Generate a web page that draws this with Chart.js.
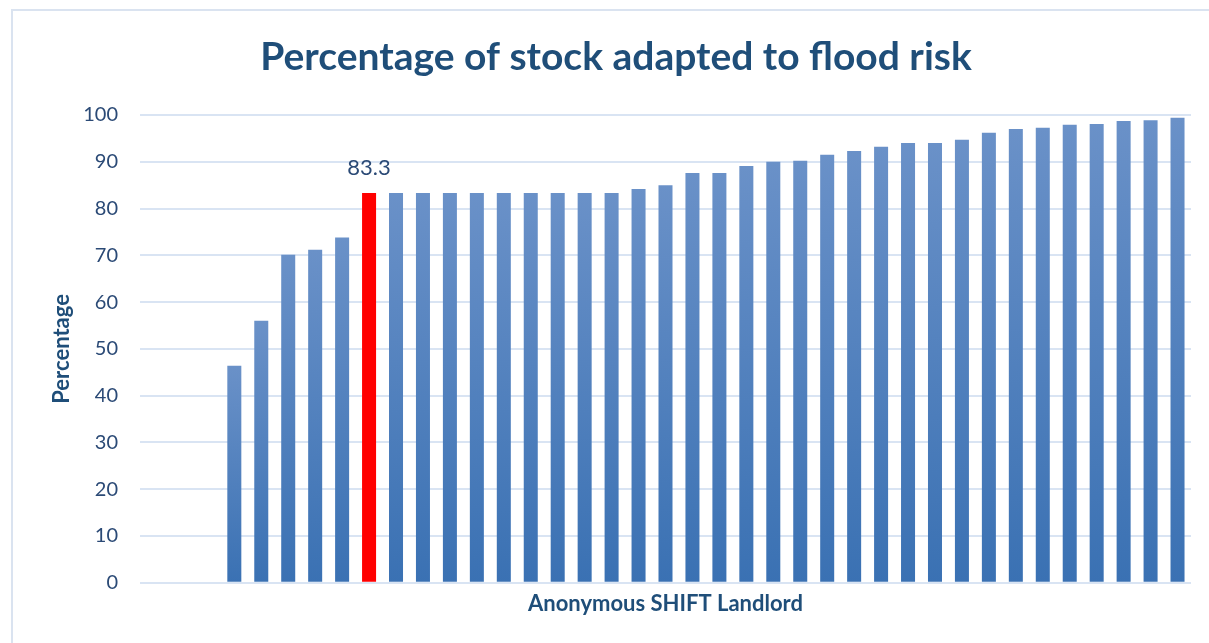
<!DOCTYPE html>
<html>
<head>
<meta charset="utf-8">
<script src="https://cdn.jsdelivr.net/npm/chart.js@4.4.1/dist/chart.umd.min.js"></script>
<style>
  html, body { margin: 0; padding: 0; background: #fff; overflow: hidden; }
  #frame { position: absolute; left: 11px; top: 9px; width: 1209px; height: 640px; border: 2px solid #dae3f0; }
  #wrap { position: absolute; left: 0; top: 0; width: 1209px; height: 633px; }
</style>
</head>
<body>
<div id="frame"><div id="wrap"><canvas id="myChart"></canvas></div></div>
<script>
// first three categories are empty slots in the original chart
var landlords = ['', '', '',
  'L1', 'L2', 'L3', 'L4', 'L5', 'L6', 'L7', 'L8', 'L9', 'L10', 'L11', 'L12',
  'L13', 'L14', 'L15', 'L16', 'L17', 'L18', 'L19', 'L20', 'L21', 'L22', 'L23', 'L24',
  'L25', 'L26', 'L27', 'L28', 'L29', 'L30', 'L31', 'L32', 'L33', 'L34', 'L35', 'L36'];
var percentages = [null, null, null,
  46.4, 56.0, 70.1, 71.2, 73.8, 83.3, 83.3, 83.3, 83.3, 83.3, 83.3, 83.3,
  83.3, 83.3, 83.3, 84.2, 85.0, 87.6, 87.6, 89.1, 90.0, 90.2, 91.5, 92.3,
  93.2, 94.0, 94.0, 94.7, 96.2, 97.0, 97.3, 97.9, 98.1, 98.7, 98.9, 99.4];
var highlight = 8; // the landlord shown in red
var yTicks = [0, 10, 20, 30, 40, 50, 60, 70, 80, 90, 100];

var navy = '#1f4e79';
var tickColor = '#2b4a76';

function barColor(c) {
  if (c.dataIndex === highlight) return '#ff0000';
  var chart = c.chart;
  if (!chart.chartArea || c.raw == null) return '#5b87c2';
  var y = chart.scales.y;
  var top = y.getPixelForValue(c.raw);
  var bottom = y.getPixelForValue(0);
  var g = chart.ctx.createLinearGradient(0, top, 0, bottom);
  g.addColorStop(0, '#6a91c8');
  g.addColorStop(1, '#3a71b3');
  return g;
}

var labelPlugin = {
  id: 'highlightLabel',
  afterDatasetsDraw: function (chart) {
    var bar = chart.getDatasetMeta(0).data[highlight];
    var ctx = chart.ctx;
    ctx.save();
    ctx.font = '22px Lato';
    ctx.fillStyle = tickColor;
    ctx.textAlign = 'center';
    ctx.textBaseline = 'middle';
    ctx.fillText(percentages[highlight].toFixed(1), bar.x, bar.y - 25);
    ctx.restore();
  }
};

var ctx = document.getElementById('myChart').getContext('2d');
var myChart = new Chart(ctx, {
  type: 'bar',
  data: {
    labels: landlords,
    datasets: [{
      data: percentages,
      backgroundColor: barColor,
      barPercentage: 0.52,
      categoryPercentage: 1
    }]
  },
  plugins: [labelPlugin],
  options: {
    responsive: true,
    maintainAspectRatio: false,
    animation: false,
    layout: { padding: { left: 28, right: 31, top: 0, bottom: 27 } },
    plugins: {
      legend: { display: false },
      tooltip: { enabled: false },
      title: {
        display: true,
        text: 'Percentage of stock adapted to flood risk',
        color: navy,
        font: { family: 'Lato', size: 39, weight: 'bold' },
        padding: { top: 22.6, bottom: 34.6 }
      }
    },
    scales: {
      x: {
        grid: { display: false, drawTicks: false },
        border: { display: false },
        ticks: { display: false },
        title: {
          display: true,
          text: 'Anonymous SHIFT Landlord',
          color: navy,
          font: { family: 'Lato', size: 22, weight: 'bold' },
          padding: { top: 7.8, bottom: 0 }
        }
      },
      y: {
        min: 0,
        max: 100,
        afterBuildTicks: function (scale) {
          scale.ticks = yTicks.map(function (v) { return { value: v }; });
        },
        afterFit: function (scale) { scale.width = 99; },
        grid: { color: '#d9e4f3', lineWidth: 2, drawTicks: false },
        border: { display: false },
        ticks: {
          color: tickColor,
          font: { family: 'Lato', size: 20 },
          padding: 22
        },
        title: {
          display: true,
          text: 'Percentage',
          color: navy,
          font: { family: 'Lato', size: 22, weight: 'bold' },
          padding: { top: 7.8, bottom: 0 }
        }
      }
    }
  }
});
</script>
</body>
</html>
